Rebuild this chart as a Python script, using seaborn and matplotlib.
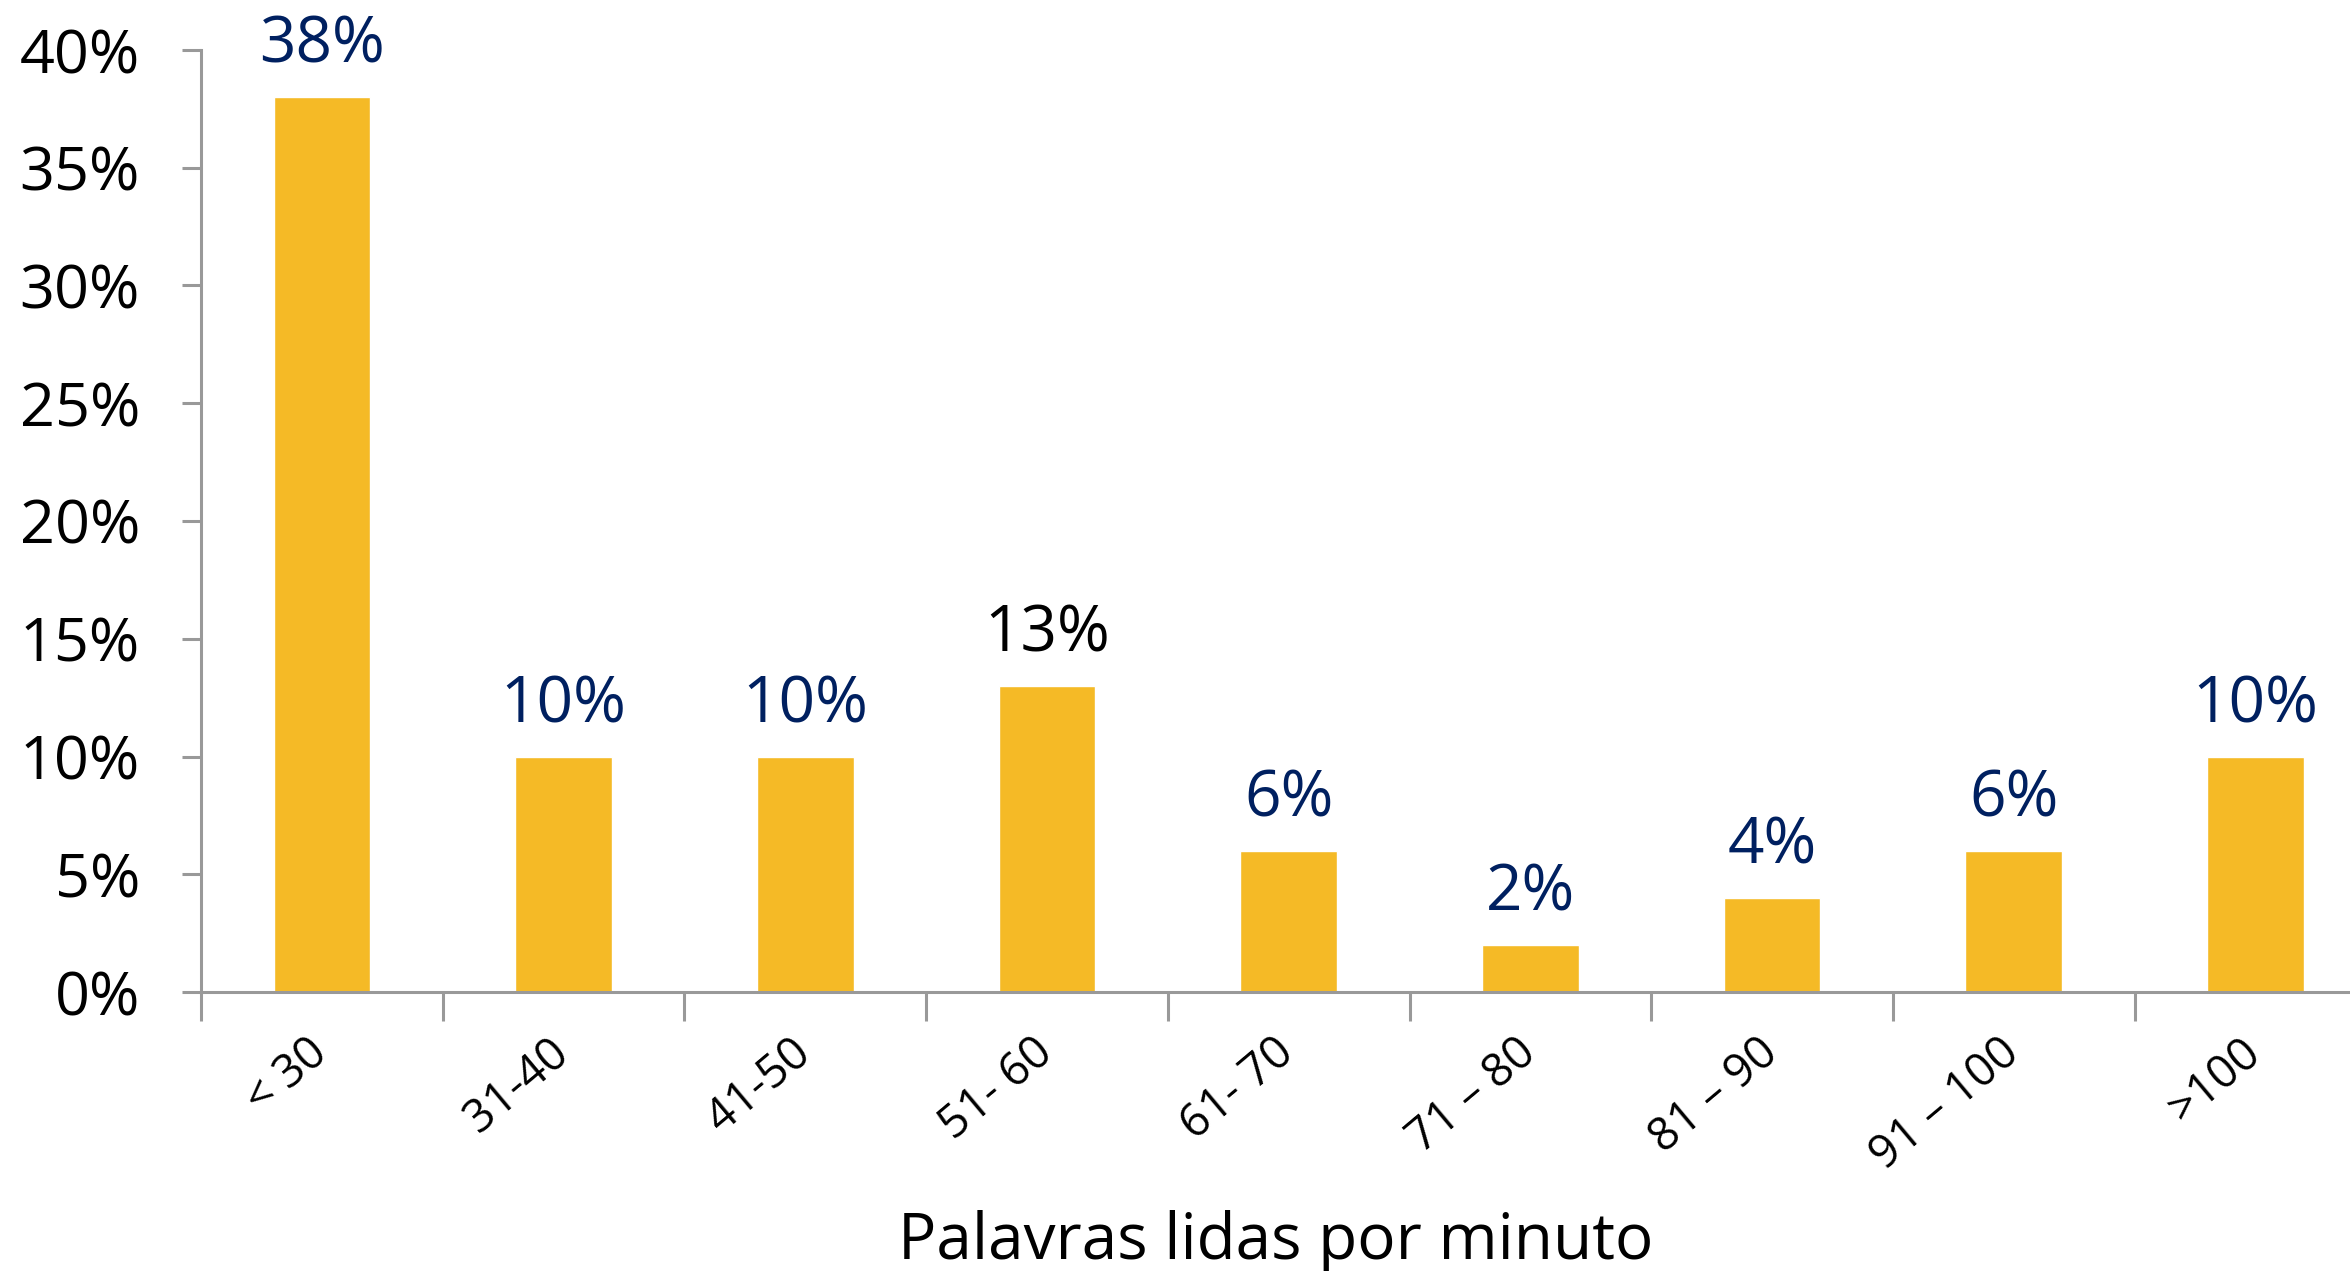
import matplotlib
matplotlib.use("Agg")
import matplotlib.pyplot as plt
import seaborn as sns
import pandas as pd
from matplotlib.ticker import FixedLocator, PercentFormatter

categories = ["< 30", "31-40", "41-50", "51- 60", "61- 70", "71 – 80", "81 – 90", "91 – 100", ">100"]
values = [38, 10, 10, 13, 6, 2, 4, 6, 10]
label_colors = ["#002060", "#002060", "#002060", "#000000", "#002060",
                "#002060", "#002060", "#002060", "#002060"]

df = pd.DataFrame({"faixa": categories, "pct": [v / 100 for v in values]})

sns.set_theme(style="white")
plt.rcParams["font.family"] = ["Open Sans", "DejaVu Sans"]

fig = plt.figure(figsize=(23.5, 12.71), dpi=100)
ax = fig.add_axes([201 / 2350, 279 / 1271, 1 - 201 / 2350, (992 - 50) / 1271])

sns.barplot(data=df, x="faixa", y="pct", color="#F5BA26", saturation=1,
            width=0.4, ax=ax)

ax.set_ylim(0, 0.40)
ax.set_xlim(-0.5, -0.5 + 2149 / 241.7)
ax.yaxis.set_major_locator(FixedLocator([i * 0.05 for i in range(9)]))
ax.yaxis.set_major_formatter(PercentFormatter(1.0, decimals=0))

for spine in ["top", "right"]:
    ax.spines[spine].set_visible(False)
for spine in ["left", "bottom"]:
    ax.spines[spine].set_color("#999999")
    ax.spines[spine].set_linewidth(2.2)

ax.tick_params(axis="y", which="major", length=14, width=2.2, color="#999999",
               labelsize=44, pad=30, left=True, labelcolor="black")
ax.tick_params(axis="x", which="major", length=0, pad=40, labelsize=33,
               labelcolor="black")
ax.xaxis.set_minor_locator(FixedLocator([i - 0.5 for i in range(len(categories) + 1)]))
ax.tick_params(axis="x", which="minor", length=21, width=2.2, color="#999999",
               bottom=True)
for lbl in ax.get_xticklabels():
    lbl.set_rotation(40)
    lbl.set_ha("right")
    lbl.set_va("center")
    lbl.set_rotation_mode("anchor")

for i, (v, c) in enumerate(zip(values, label_colors)):
    ax.annotate(f"{v}%", (i, v / 100), xytext=(0, 14), textcoords="offset points",
                ha="center", va="bottom", fontsize=46, color=c)

ax.set_ylabel("")
ax.set_xlabel("Palavras lidas por minuto", fontsize=46, labelpad=22, color="black")

fig.savefig("out.png", dpi=100)
